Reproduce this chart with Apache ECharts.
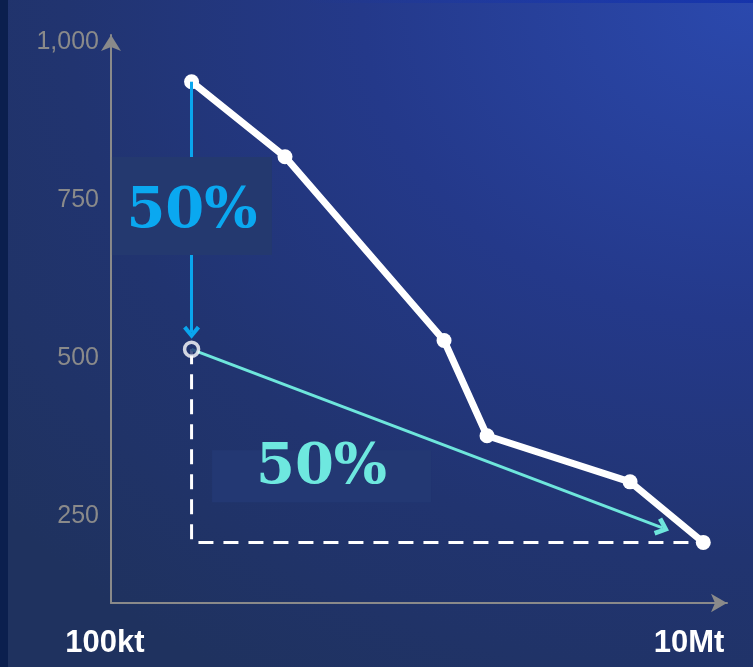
<!DOCTYPE html>
<html>
<head>
<meta charset="utf-8">
<script src="https://cdn.jsdelivr.net/npm/echarts@6/dist/echarts.min.js"></script>
<style>
html,body{margin:0;padding:0;}
#wrap{position:relative;width:753px;height:667px;overflow:hidden;
  background:
    linear-gradient(to right, rgba(20,50,170,0) 40%, rgba(20,50,170,0.9) 100%) top/100% 3px no-repeat,
    linear-gradient(to right, #0b1f4e 0, #0b1f4e 8px, transparent 8px),
    radial-gradient(ellipse 130% 120% at 100% 0%, #2b49ae 0%, #24398a 40%, #213470 70%, #1f325f 100%);}
#chart{position:absolute;left:0;top:0;width:753px;height:667px;}
</style>
</head>
<body>
<div id="wrap"><div id="chart"></div></div>
<script>
// ---- data ----
const xTickValues = [100, 10000];          // kt
const xTickLabels = ['100kt', '10Mt'];
const yTickValues = [250, 500, 750, 1000];
const curveX = [190, 400, 1420, 2000, 6250, 11200];
const curveY = [938, 819, 528, 377, 304, 208];
const halfPoint = [190, 514];               // 50% target (hollow point)
const blueArrowFrom = [190, 938];
const blueArrowTo = [190, 541];
const tealArrowFrom = [190, 514];
const tealArrowTo = [8091, 231];
const guideLine = [[190, 514], [190, 208], [11200, 208]];
const labelTexts = ['50%', '50%'];
const labelCoords = [[190.6, 741], [535, 313]];

const chevron = 'path://M8,0 L16,9 L13,11.5 L8,5.6 L3,11.5 L0,9 Z';
const chart = echarts.init(document.getElementById('chart'), null, {renderer: 'canvas'});

const curveData = curveX.map((x, i) => [x, curveY[i]]);

chart.setOption({
  backgroundColor: 'transparent',
  animation: false,
  grid: {left: 111, right: 26, top: 35, bottom: 64, containLabel: false},
  xAxis: {
    type: 'log', logBase: 10, min: 100, max: 13530,
    axisLine: {show: true, symbol: ['none', 'arrow'], symbolSize: [14, 16],
      lineStyle: {color: '#8a8a8a', width: 2}},
    axisTick: {show: false},
    splitLine: {show: false},
    axisLabel: {
      customValues: xTickValues,
      color: '#ffffff', fontSize: 31, fontWeight: 'bold',
      fontFamily: '"Liberation Sans", Arial, sans-serif', margin: 25,
      formatter: v => {
        const i = xTickValues.findIndex(t => Math.abs(t - v) / t < 0.01);
        if (i < 0) return '';
        return i === 0 ? '{a|' + xTickLabels[i] + '}' : xTickLabels[i];
      },
      rich: {a: {color: '#ffffff', fontSize: 31, fontWeight: 'bold',
        fontFamily: '"Liberation Sans", Arial, sans-serif', padding: [0, 12, 0, 0]}}
    }
  },
  yAxis: {
    type: 'value', min: 112, max: 1012,
    axisLine: {show: true, symbol: ['none', 'arrow'], symbolSize: [15, 16],
      lineStyle: {color: '#8a8a8a', width: 2}},
    axisTick: {show: false},
    splitLine: {show: false},
    axisLabel: {
      customValues: yTickValues,
      color: '#8a8a8a', fontSize: 25,
      fontFamily: '"Liberation Sans", Arial, sans-serif', margin: 12,
      formatter: v => Number(v).toLocaleString('en-US')
    }
  },
  series: [
    {
      type: 'line', z: 1, silent: true,
      data: guideLine, symbol: 'none',
      lineStyle: {color: '#ffffff', width: 3, type: [15, 10]}
    },
    {
      type: 'line', z: 2, silent: true, data: [],
      markLine: {
        silent: true, symbol: ['none', chevron], symbolSize: [17, 13],
        label: {show: false},
        data: [
          [{coord: blueArrowFrom, lineStyle: {color: '#0aa6ee', width: 3, type: 'solid'}},
           {coord: blueArrowTo}],
          [{coord: tealArrowFrom, lineStyle: {color: '#6ee6dc', width: 3, type: 'solid'}},
           {coord: tealArrowTo, symbolSize: [19, 14]}]
        ]
      }
    },
    {
      type: 'line', z: 3, silent: true, data: [],
      markPoint: {
        silent: true,
        data: [
          {coord: labelCoords[0], symbol: 'rect', symbolSize: [160, 98],
           itemStyle: {color: '#24396f'},
           label: {show: true, formatter: labelTexts[0], color: '#0aa8f0', fontSize: 56,
             fontWeight: 'bold', fontFamily: '"DejaVu Serif", serif', offset: [0, 6]}},
          {coord: labelCoords[1], symbol: 'rect', symbolSize: [219, 52],
           itemStyle: {color: '#233873'},
           label: {show: true, formatter: labelTexts[1], color: '#6ee8df', fontSize: 56,
             fontWeight: 'bold', fontFamily: '"DejaVu Serif", serif', offset: [0, -8]}}
        ]
      }
    },
    {
      type: 'line', z: 4, silent: true,
      data: curveData, symbol: 'circle', symbolSize: 15, showSymbol: true,
      itemStyle: {color: '#ffffff'},
      lineStyle: {color: '#ffffff', width: 7}
    },
    {
      type: 'scatter', z: 5, silent: true,
      data: [halfPoint], symbol: 'circle', symbolSize: 14,
      itemStyle: {color: '#20356f', borderColor: '#ffffff', borderWidth: 3.5}
    }
  ]
});
</script>
</body>
</html>
